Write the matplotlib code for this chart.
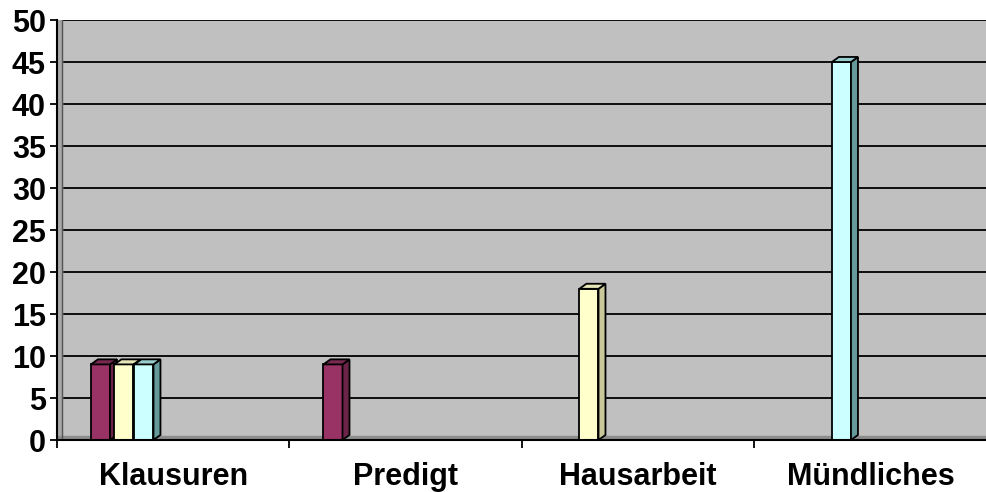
import matplotlib.pyplot as plt
from matplotlib.patches import Polygon
import numpy as np

# data
categories = ["Klausuren", "Predigt", "Hausarbeit", "Mündliches"]
series_a = [9, 9, 0, 0]    # maroon
series_b = [9, 0, 18, 0]   # light yellow
series_c = [9, 0, 0, 45]   # light cyan
yticks = [0, 5, 10, 15, 20, 25, 30, 35, 40, 45, 50]

face_cols = ["#993366", "#ffffcc", "#ccffff"]
side_cols = ["#6b2447", "#c8c89a", "#669999"]
top_cols = ["#7a2a52", "#e6e6b8", "#99cccc"]

offsets = [-0.313, -0.212, -0.126]
w = 0.082
dx = 0.03   # fake 3d depth in x
dy = 0.6    # fake 3d depth in y

plt.rcParams['font.family'] = ['Liberation Sans', 'DejaVu Sans']

fig = plt.figure(figsize=(9.87, 4.92), dpi=100)
ax = fig.add_axes([57/987, 52/492, 930/987, 420/492])
ax.set_facecolor("#c0c0c0")
ax.set_xlim(-0.5, 3.5)
ax.set_ylim(0, 50)

# gridlines
for t in yticks[1:]:
    ax.axhline(t, color="black", lw=1.3, zorder=1)

# left wall strip and floor band
ax.axvspan(-0.5, -0.5 + 5/232.5, color="#a8a8a8", zorder=1.5)
ax.axvline(-0.5 + 5/232.5, color="#555555", lw=1, zorder=1.6)
ax.axhspan(0, 0.45, color="#8c8c8c", zorder=1.5)

all_series = [series_a, series_b, series_c]
for i, vals in enumerate(all_series):
    for j, v in enumerate(vals):
        if v <= 0:
            continue
        x0 = j + offsets[i] - w / 2
        ax.bar(x0, v, width=w, align="edge", color=face_cols[i],
               edgecolor="black", lw=1.3, zorder=3)
        side = [(x0 + w, 0), (x0 + w + dx, dy), (x0 + w + dx, v + dy), (x0 + w, v)]
        top = [(x0, v), (x0 + dx, v + dy), (x0 + w + dx, v + dy), (x0 + w, v)]
        ax.add_patch(Polygon(side, closed=True, facecolor=side_cols[i],
                             edgecolor="black", lw=1.3, zorder=3))
        ax.add_patch(Polygon(top, closed=True, facecolor=top_cols[i],
                             edgecolor="black", lw=1.3, zorder=3))

for s in ["top", "right"]:
    ax.spines[s].set_visible(False)
ax.spines["left"].set_linewidth(1.5)
ax.spines["bottom"].set_linewidth(1.5)
ax.spines["left"].set_zorder(4)
ax.spines["bottom"].set_zorder(4)

ax.set_yticks(yticks)
ax.set_yticklabels([str(t) for t in yticks], fontsize=22, fontweight="bold")
ax.tick_params(axis="y", length=5, width=1.3, pad=3)

ax.set_xticks(range(len(categories)))
ax.set_xticklabels(categories, fontsize=22, fontweight="bold")
ax.tick_params(axis="x", which="major", length=0, pad=16)
ax.set_xticks(np.arange(-0.5, 3.6, 1), minor=True)
ax.tick_params(axis="x", which="minor", length=6, width=1.3)

fig.savefig("out.png", dpi=100)
